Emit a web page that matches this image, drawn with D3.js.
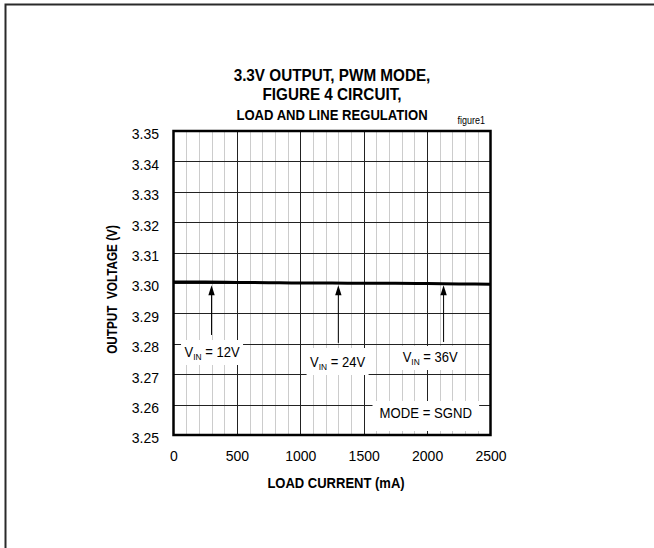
<!DOCTYPE html>
<html>
<head>
<meta charset="utf-8">
<script src="https://cdn.jsdelivr.net/npm/d3@7"></script>
<style>
  html, body { margin: 0; padding: 0; background: #fff; }
  svg { display: block; }
  text { font-family: "Liberation Sans", Arial, sans-serif; fill: #000; }
</style>
</head>
<body>
<svg id="chart" width="654" height="548"></svg>
<script>
// ---- data ----
const titleLines = ["3.3V OUTPUT, PWM MODE,", "FIGURE 4 CIRCUIT,", "LOAD AND LINE REGULATION"];
const loadCurrent = [0, 250, 500, 750, 1000, 1250, 1500, 1750, 2000, 2250, 2500];
const outputVoltage = [3.3003, 3.3003, 3.3002, 3.3001, 3.3000, 3.3000, 3.2999, 3.2999, 3.2998, 3.2997, 3.2996];
const xTicks = [0, 500, 1000, 1500, 2000, 2500];
const yTicks = [3.25, 3.26, 3.27, 3.28, 3.29, 3.30, 3.31, 3.32, 3.33, 3.34, 3.35];
const xMinorTicks = d3.range(0, 2501, 100);
const arrowCurrents = [300, 1300, 2130];
const vinLabels = ["12V", "24V", "36V"];
const arrowTailVoltages = [3.2829, 3.2803, 3.2806];
const xLabel = "LOAD CURRENT (mA)";
const yLabel = "OUTPUT  VOLTAGE (V)";
const modeLabel = "MODE = SGND";
const figLabel = "figure1";

// ---- layout ----
const svg = d3.select("#chart");
const W = 654, H = 548;
const plot = { left: 173.5, right: 490.5, top: 131, bottom: 435 };

svg.append("rect").attr("width", W).attr("height", H).attr("fill", "#fff");
svg.append("path").attr("d", `M5.5,${H} V4.5 H${W}`).attr("fill", "none")
  .attr("stroke", "#2a2a2a").attr("stroke-width", 2);

const x = d3.scaleLinear().domain([0, 2500]).range([plot.left, plot.right]);
const y = d3.scaleLinear().domain([3.25, 3.35]).range([plot.bottom, plot.top]);

// scaled text helper
function stext(parent, tx, ty, sx, opts) {
  const g = parent.append("g").attr("transform", `translate(${tx},${ty}) scale(${sx},1)`);
  const t = g.append("text").attr("x", 0).attr("y", 0)
    .attr("text-anchor", opts.anchor || "middle")
    .style("font-size", opts.size + "px")
    .style("font-weight", opts.bold ? "bold" : "normal");
  if (opts.text != null) t.text(opts.text);
  return { g, t };
}

// grid
const grid = svg.append("g");
grid.selectAll(".minor").data(xMinorTicks.filter(d => d % 500 !== 0)).join("line")
  .attr("x1", d => Math.round(x(d)) + 0.5).attr("x2", d => Math.round(x(d)) + 0.5)
  .attr("y1", plot.top).attr("y2", plot.bottom)
  .attr("stroke", "#cccccc").attr("stroke-width", 1);
grid.selectAll(".majx").data(xTicks.slice(1, -1)).join("line")
  .attr("x1", d => Math.round(x(d)) + 0.5).attr("x2", d => Math.round(x(d)) + 0.5)
  .attr("y1", plot.top).attr("y2", plot.bottom)
  .attr("stroke", "#222").attr("stroke-width", 1);
grid.selectAll(".majy").data(yTicks.slice(1, -1)).join("line")
  .attr("x1", plot.left).attr("x2", plot.right)
  .attr("y1", d => Math.round(y(d)) + 0.5).attr("y2", d => Math.round(y(d)) + 0.5)
  .attr("stroke", "#222").attr("stroke-width", 1);

// data line
const line = d3.line().x((d, i) => x(loadCurrent[i])).y(d => y(d)).curve(d3.curveMonotoneX);
svg.append("path").datum(outputVoltage).attr("d", line)
  .attr("fill", "none").attr("stroke", "#000").attr("stroke-width", 3);

// arrows
arrowCurrents.forEach((c, i) => {
  const ax = x(c);
  const tipY = y(3.2993);
  const tailY = y(arrowTailVoltages[i]);
  svg.append("line").attr("x1", ax).attr("x2", ax).attr("y1", tipY + 8).attr("y2", tailY)
    .attr("stroke", "#000").attr("stroke-width", 1);
  svg.append("path")
    .attr("d", `M${ax},${tipY} L${ax - 3.2},${tipY + 10} L${ax + 3.2},${tipY + 10} Z`)
    .attr("fill", "#000");
});

// labels with white boxes
function boxedLabel(cx, baseY, sx, build, padX, boxTop, boxBottom) {
  const rect = svg.append("rect").attr("fill", "#fff");
  const { t } = stext(svg, cx, baseY, sx, { size: 14 });
  build(t);
  const bb = t.node().getBBox();
  const w = bb.width * sx;
  rect.attr("x", cx - w / 2 - padX).attr("width", w + 2 * padX)
    .attr("y", boxTop).attr("height", boxBottom - boxTop);
}
const vinPos = [
  { cx: x(300) + 0.5, base: 357, top: 340, bottom: 365 },
  { cx: x(1290) + 0.5, base: 367, top: 348, bottom: 375 },
  { cx: x(2020) + 0.5, base: 362, top: 346, bottom: 370 }
];
vinLabels.forEach((v, i) => {
  const p = vinPos[i];
  boxedLabel(p.cx, p.base, 0.93, t => {
    t.append("tspan").text("V");
    t.append("tspan").text("IN").attr("dy", 3).style("font-size", "9px");
    t.append("tspan").text(" = " + v).attr("dy", -3);
  }, 3.5, p.top, p.bottom);
});
boxedLabel(x(1990), 418, 0.94, t => t.text(modeLabel), 7, 401, 431);

// frame
svg.append("rect").attr("x", plot.left).attr("y", plot.top)
  .attr("width", plot.right - plot.left).attr("height", plot.bottom - plot.top)
  .attr("fill", "none").attr("stroke", "#000").attr("stroke-width", 2.5);

// axes tick labels
const xAxis = d3.axisBottom(x).tickValues(xTicks).tickSize(0).tickPadding(0).tickFormat(d3.format("d"));
const gx = svg.append("g").attr("transform", `translate(0,${plot.bottom})`).call(xAxis);
gx.select(".domain").remove();
gx.attr("font-family", null).attr("font-size", null);
gx.selectAll("text").attr("dy", null).attr("y", 26).style("font-size", "14px");

const yAxis = d3.axisLeft(y).tickValues(yTicks).tickSize(0).tickPadding(0).tickFormat(d3.format(".2f"));
const gy = svg.append("g").attr("transform", `translate(159,0)`).call(yAxis);
gy.select(".domain").remove();
gy.attr("font-family", null).attr("font-size", null);
gy.selectAll("text").attr("dy", "0.42em").attr("y", 2).style("font-size", "14px");

// titles
const cx = (plot.left + plot.right) / 2;
const titleSizes = [16, 16, 14];
const titleBase = [81, 100, 119.5];
const titleScale = [0.955, 0.955, 0.935];
titleLines.forEach((t, i) => {
  stext(svg, cx, titleBase[i], titleScale[i], { size: titleSizes[i], bold: true, text: t });
});
stext(svg, 485, 124, 0.9, { size: 10, anchor: "end", text: figLabel });

stext(svg, 336, 488, 0.93, { size: 14, bold: true, text: xLabel });
svg.append("g").attr("transform", `translate(116.7,289.5) rotate(-90) scale(0.84,1)`)
  .append("text").attr("text-anchor", "middle")
  .style("font-size", "14px").style("font-weight", "bold").style("white-space", "pre").text(yLabel);
</script>
</body>
</html>
